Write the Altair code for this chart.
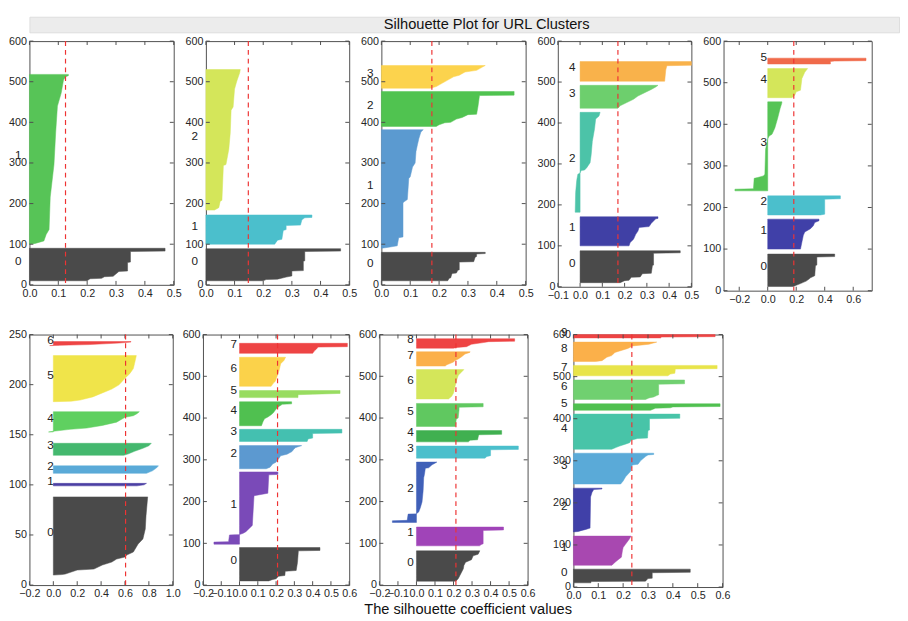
import altair as alt
import pandas as pd

TITLE = "Silhouette Plot for URL Clusters"
XLABEL = "The silhouette coefficient values"
LABEL_X = -0.05  # matplotlib text x for cluster labels

# ---------- data: per panel, per cluster knots (y position, silhouette value) ----------
P1_CLUSTERS = [
    [(10, 0.20), (15, 0.21), (16, 0.25), (20, 0.26), (21, 0.29), (33, 0.31), (34, 0.34), (55, 0.34), (56, 0.35), (82, 0.35), (83, 0.47), (90, 0.47)],
    [(100, 0.0), (102, 0.02), (108, 0.05), (124, 0.058), (136, 0.068), (216, 0.072), (296, 0.085), (376, 0.091), (440, 0.097), (472, 0.11), (504, 0.118), (512, 0.125), (515, 0.135), (518, 0.135)],
]
P1_AVG = 0.125
P1_COLORS = ["#4a4a4a", "#57c457"]

P2_CLUSTERS = [
    [(10, 0.20), (13, 0.21), (14, 0.25), (19, 0.28), (22, 0.30), (34, 0.30), (35, 0.34), (58, 0.34), (59, 0.345), (82, 0.345), (83, 0.47), (89, 0.47)],
    [(100, 0.24), (110, 0.25), (112, 0.265), (134, 0.27), (136, 0.28), (146, 0.28), (147, 0.33), (160, 0.335), (165, 0.345), (166, 0.37), (172, 0.37)],
    [(184, 0.03), (190, 0.045), (206, 0.05), (208, 0.056), (294, 0.061), (296, 0.07), (334, 0.08), (374, 0.085), (430, 0.088), (438, 0.095), (482, 0.10), (502, 0.108), (522, 0.118), (530, 0.12)],
]
P2_AVG = 0.148
P2_COLORS = ["#4a4a4a", "#4bbfcc", "#d4e65a"]

P3_CLUSTERS = [
    [(10, 0.23), (16, 0.235), (17, 0.24), (28, 0.245), (29, 0.26), (36, 0.265), (37, 0.27), (56, 0.27), (57, 0.32), (68, 0.325), (70, 0.33), (76, 0.33), (77, 0.36), (80, 0.36)],
    [(90, 0.0), (92, 0.02), (96, 0.055), (116, 0.06), (118, 0.075), (202, 0.075), (205, 0.08), (210, 0.09), (262, 0.095), (266, 0.10), (290, 0.108), (300, 0.117), (328, 0.12), (345, 0.125), (360, 0.13), (376, 0.137), (382, 0.145)],
    [(390, 0.19), (394, 0.20), (399, 0.22), (400, 0.24), (408, 0.26), (412, 0.28), (419, 0.30), (420, 0.33), (440, 0.335), (466, 0.34), (467, 0.46), (476, 0.46)],
    [(484, 0.17), (488, 0.19), (496, 0.21), (504, 0.23), (512, 0.25), (516, 0.27), (524, 0.29), (528, 0.33), (536, 0.35), (540, 0.36)],
]
P3_AVG = 0.175
P3_COLORS = ["#4a4a4a", "#5b9ad0", "#50c350", "#fcd34d"]

P4_CLUSTERS = [
    [(10, 0.18), (15, 0.20), (16, 0.22), (23, 0.23), (24, 0.27), (32, 0.28), (33, 0.32), (52, 0.325), (53, 0.33), (82, 0.33), (83, 0.45), (88, 0.45)],
    [(100, 0.22), (108, 0.225), (116, 0.24), (128, 0.25), (136, 0.26), (145, 0.265), (147, 0.31), (155, 0.32), (166, 0.34), (167, 0.35), (171, 0.35)],
    [(182, -0.022), (230, -0.02), (260, -0.015), (275, -0.01), (278, 0.0), (284, 0.005), (285, 0.02), (291, 0.03), (303, 0.045), (323, 0.05), (355, 0.055), (386, 0.065), (410, 0.07), (417, 0.085), (426, 0.09)],
    [(436, 0.17), (442, 0.18), (450, 0.21), (458, 0.24), (466, 0.26), (474, 0.29), (482, 0.32), (488, 0.34), (492, 0.35)],
    [(502, 0.38), (530, 0.385), (540, 0.39), (541, 0.50), (550, 0.50)],
]
P4_AVG = 0.17
P4_COLORS = ["#4a4a4a", "#4040a5", "#4cc3a8", "#6dcf6d", "#f9b24b"]

P5_CLUSTERS = [
    [(10, 0.18), (13, 0.20), (17, 0.23), (20, 0.25), (23, 0.27), (28, 0.29), (31, 0.30), (36, 0.33), (60, 0.335), (62, 0.345), (81, 0.345), (82, 0.47), (88, 0.47)],
    [(100, 0.23), (117, 0.24), (133, 0.25), (141, 0.26), (149, 0.30), (156, 0.32), (164, 0.33), (168, 0.36), (172, 0.36)],
    [(182, 0.37), (184, 0.40), (220, 0.40), (221, 0.51), (228, 0.51)],
    [(240, -0.23), (244, -0.23), (245, -0.10), (270, -0.095), (272, -0.07), (276, -0.03), (280, -0.02), (340, -0.015), (365, 0.0), (372, 0.01), (376, 0.03), (391, 0.05), (415, 0.07), (438, 0.087), (450, 0.098), (454, 0.10)],
    [(464, 0.17), (470, 0.19), (478, 0.20), (482, 0.23), (510, 0.24), (514, 0.245), (525, 0.26), (534, 0.28)],
    [(545, 0.44), (551, 0.44), (552, 0.47), (553, 0.69), (559, 0.69)],
]
P5_AVG = 0.183
P5_COLORS = ["#4a4a4a", "#4040a8", "#4bbfcc", "#56c456", "#d4e65a", "#f06a4a"]

P6_CLUSTERS = [
    [(10, 0.0), (10.5, 0.07), (11, 0.10), (13, 0.15), (15, 0.20), (16, 0.34), (20, 0.41), (23, 0.49), (26, 0.53), (28, 0.60), (30, 0.615), (33, 0.67), (41, 0.71), (46, 0.75), (56, 0.77), (69, 0.776), (88, 0.79)],
    [(99, 0.70), (100, 0.76), (101.5, 0.78)],
    [(111.5, 0.78), (114, 0.83), (117, 0.865), (119, 0.88)],
    [(129.5, 0.59), (131, 0.63), (133.5, 0.68), (136.5, 0.75), (139, 0.80), (141.5, 0.82)],
    [(152.8, -0.04), (153.5, 0.0), (155.4, 0.14), (156.7, 0.28), (159.3, 0.41), (162.6, 0.53), (167.4, 0.60), (169, 0.67), (171, 0.70), (173, 0.72)],
    [(183, 0.0), (183.5, 0.15), (184.6, 0.224), (187.8, 0.33), (191.7, 0.41), (195.6, 0.49), (199.8, 0.55), (206.3, 0.60), (211, 0.64), (216, 0.67), (221, 0.68), (229, 0.695)],
    [(239, -0.03), (240, 0.30), (241.5, 0.55), (242.5, 0.65), (243, 0.65)],
]
P6_AVG = 0.605
P6_COLORS = ["#4a4a4a", "#4b3fa3", "#5aaad8", "#44b86e", "#5fd060", "#f0e44a", "#ee4444"]

P7_CLUSTERS = [
    [(10, 0.16), (13, 0.178), (15, 0.20), (21, 0.213), (23, 0.248), (33, 0.25), (35, 0.31), (54, 0.317), (82, 0.322), (83, 0.44), (90, 0.44)],
    [(98, -0.14), (103, -0.14), (104, -0.06), (120, -0.055), (121, 0.0), (124, 0.02), (128, 0.035), (143, 0.07), (212, 0.079), (214, 0.08), (220, 0.155), (264, 0.16), (265, 0.21), (271, 0.21)],
    [(278.6, 0.146), (282.5, 0.167), (290, 0.181), (294, 0.199), (302, 0.213), (309.6, 0.225), (313.5, 0.26), (319.7, 0.287), (325, 0.296), (329, 0.305), (334, 0.34)],
    [(344, 0.37), (350, 0.375), (352, 0.40), (363, 0.40), (364, 0.56), (373, 0.56)],
    [(381.6, 0.12), (391, 0.128), (398.6, 0.137), (402.5, 0.155), (408, 0.173), (412.5, 0.185), (421.8, 0.20), (428, 0.217), (433, 0.234), (434, 0.285), (439, 0.285)],
    [(449, 0.32), (456, 0.32), (457, 0.40), (459, 0.55), (466, 0.55)],
    [(476, 0.173), (483.7, 0.185), (487.6, 0.195), (503, 0.208), (514.7, 0.217), (530, 0.225), (538, 0.243), (545.6, 0.252)],
    [(555, 0.40), (561, 0.41), (565, 0.42), (570, 0.43), (571, 0.59), (579, 0.59)],
]
P7_AVG = 0.208
P7_COLORS = ["#4a4a4a", "#7a4ab8", "#5c99d0", "#44c0b0", "#50c050", "#98dc60", "#fbd24a", "#ee4444"]

P8_CLUSTERS = [
    [(9.4, 0.213), (15.6, 0.226), (23.4, 0.235), (31.2, 0.244), (39, 0.253), (46.8, 0.256), (54.6, 0.265), (60.8, 0.297), (70, 0.306), (74, 0.333), (82, 0.342)],
    [(94, 0.34), (97, 0.35), (99, 0.36), (131, 0.36), (132, 0.47), (139, 0.47)],
    [(150, -0.13), (154, -0.13), (155, -0.05), (170, -0.045), (171, 0.0), (175, 0.012), (185.5, 0.021), (199, 0.03), (226, 0.036), (257, 0.039), (265, 0.043), (280, 0.048), (281, 0.066), (288, 0.084), (292, 0.10), (294.6, 0.11)],
    [(304, 0.37), (308, 0.38), (310, 0.40), (324, 0.40), (325, 0.55), (333, 0.55)],
    [(343, 0.28), (347, 0.29), (348, 0.33), (358, 0.335), (360, 0.34), (361, 0.46), (370, 0.46)],
    [(380, 0.21), (398, 0.215), (400, 0.225), (420, 0.23), (426, 0.23), (427, 0.36), (435, 0.36)],
    [(445.8, 0.173), (452, 0.19), (460, 0.20), (475.5, 0.208), (491, 0.217), (502.7, 0.226), (510.5, 0.244), (516, 0.256)],
    [(524.6, 0.155), (527.7, 0.164), (534, 0.20), (537.8, 0.208), (541.7, 0.226), (547, 0.244), (553.4, 0.262), (557.3, 0.288), (558.8, 0.29)],
    [(567.4, 0.20), (569, 0.217), (571, 0.27), (576.8, 0.297), (580.7, 0.36), (583, 0.39), (584, 0.53), (590, 0.53)],
]
P8_AVG = 0.213
P8_COLORS = ["#4a4a4a", "#a044b8", "#4060b8", "#4bbfcc", "#40b050", "#60c860", "#d4e65a", "#fbb04a", "#ee4444"]

P9_CLUSTERS = [
    [(10, 0.07), (13, 0.072), (14, 0.29), (20, 0.30), (21, 0.317), (34, 0.317), (35, 0.47), (42.5, 0.47)],
    [(51.7, 0.155), (55, 0.16), (60, 0.17), (65, 0.18), (71, 0.193), (86, 0.197), (94, 0.20), (102, 0.21), (110, 0.22), (114, 0.225), (121, 0.232)],
    [(131, 0.0), (132, 0.02), (134, 0.03), (137, 0.05), (140, 0.067), (214, 0.069), (225, 0.075), (232, 0.082), (233, 0.115), (235, 0.115)],
    [(244.8, 0.19), (252, 0.20), (262, 0.21), (275, 0.23), (290, 0.237), (292, 0.26), (300, 0.27), (310, 0.29), (314, 0.30), (315, 0.323), (318, 0.323)],
    [(327.4, 0.154), (332, 0.173), (335, 0.186), (339, 0.206), (343, 0.226), (349, 0.232), (353, 0.258), (354, 0.298), (372, 0.30), (373, 0.306), (400, 0.306), (401, 0.428), (411, 0.428)],
    [(420, 0.31), (425, 0.33), (426, 0.39), (428, 0.40), (429, 0.59), (435.5, 0.59)],
    [(445.6, 0.29), (449.4, 0.304), (451.7, 0.323), (455, 0.335), (457, 0.343), (482, 0.343), (483, 0.447), (492, 0.447)],
    [(502, 0.38), (506, 0.39), (508, 0.408), (518, 0.41), (519, 0.578), (526.6, 0.578)],
    [(536, 0.089), (538, 0.115), (546, 0.134), (550, 0.154), (557.5, 0.167), (561, 0.186), (567, 0.219), (573, 0.239), (577, 0.304), (582, 0.335)],
    [(592, 0.35), (594, 0.355), (595, 0.57), (600, 0.57)],
]
P9_AVG = 0.235
P9_COLORS = ["#4a4a4a", "#a848b0", "#4040a8", "#5aaad8", "#48c4a8", "#50c050", "#70d070", "#e8e44a", "#fbb04a", "#ee4444"]

# axis settings (domains / tick values)
TICKS_05 = [0.0, 0.1, 0.2, 0.3, 0.4, 0.5]
TICKS_Y600 = [0, 100, 200, 300, 400, 500, 600]

FONT = "Liberation Sans"
FRAME = "#4d4d4d"
TICK_LEN = 4


def panel(clusters, colors, avg, xdom, xticks, ydom, yticks, w, h):
    rows, labs = [], []
    for ci, pts in enumerate(clusters):
        for y, x in pts:
            rows.append({"c": ci, "y": y, "x": x, "col": colors[ci]})
        labs.append({"lab": str(ci), "ly": (pts[0][0] + pts[-1][0]) / 2.0, "lx": LABEL_X})
    df = pd.DataFrame(rows)
    dl = pd.DataFrame(labs)
    da = pd.DataFrame({"avg": [avg]})
    dxt = pd.DataFrame({"v": xticks})
    dyt = pd.DataFrame({"v": yticks})

    xs = alt.Scale(domain=xdom, nice=False, zero=False)
    ys = alt.Scale(domain=ydom, nice=False, zero=False)
    xa = alt.Axis(values=xticks, format=".1f", labelFlush=False, labelOverlap=False, title=None)
    ya = alt.Axis(values=yticks, format="d", labelOverlap=False, title=None)

    area = alt.Chart(df).mark_area(
        orient="horizontal", fillOpacity=1.0, strokeOpacity=1.0, strokeWidth=0.5
    ).encode(
        x=alt.X("x:Q", scale=xs, axis=xa, stack=None),
        y=alt.Y("y:Q", scale=ys, axis=ya),
        fill=alt.Fill("col:N", scale=None),
        stroke=alt.Stroke("col:N", scale=None),
        detail="c:N",
    )
    xt_top = alt.Chart(dxt).mark_rule(color=FRAME, strokeWidth=1).encode(
        x=alt.X("v:Q", scale=xs, axis=xa), y=alt.value(0), y2=alt.value(TICK_LEN))
    xt_bot = alt.Chart(dxt).mark_rule(color=FRAME, strokeWidth=1).encode(
        x=alt.X("v:Q", scale=xs, axis=xa), y=alt.value(h), y2=alt.value(h - TICK_LEN))
    yt_l = alt.Chart(dyt).mark_rule(color=FRAME, strokeWidth=1).encode(
        y=alt.Y("v:Q", scale=ys, axis=ya), x=alt.value(0), x2=alt.value(TICK_LEN))
    yt_r = alt.Chart(dyt).mark_rule(color=FRAME, strokeWidth=1).encode(
        y=alt.Y("v:Q", scale=ys, axis=ya), x=alt.value(w), x2=alt.value(w - TICK_LEN))
    rule = alt.Chart(da).mark_rule(
        color="#ee3333", strokeDash=[5, 4], strokeWidth=1.2
    ).encode(x=alt.X("avg:Q", scale=xs, axis=xa))
    text = alt.Chart(dl).mark_text(
        align="left", baseline="alphabetic", fontSize=12, font=FONT, color="#222222"
    ).encode(
        x=alt.X("lx:Q", scale=xs, axis=xa),
        y=alt.Y("ly:Q", scale=ys, axis=ya),
        text="lab:N",
    )
    return alt.layer(area, xt_top, xt_bot, yt_l, yt_r, rule, text).properties(width=w, height=h)


p1 = panel(P1_CLUSTERS, P1_COLORS, P1_AVG, [0, 0.5], TICKS_05, [0, 600], TICKS_Y600, 148, 250)
p2 = panel(P2_CLUSTERS, P2_COLORS, P2_AVG, [0, 0.5], TICKS_05, [0, 600], TICKS_Y600, 147, 250)
p3 = panel(P3_CLUSTERS, P3_COLORS, P3_AVG, [0, 0.5], TICKS_05, [0, 600], TICKS_Y600, 148, 250)
p4 = panel(P4_CLUSTERS, P4_COLORS, P4_AVG, [-0.1, 0.5], [-0.1, 0.0, 0.1, 0.2, 0.3, 0.4, 0.5], [0, 600], TICKS_Y600, 137, 252)
p5 = panel(P5_CLUSTERS, P5_COLORS, P5_AVG, [-0.31, 0.73], [-0.2, 0.0, 0.2, 0.4, 0.6], [0, 600], TICKS_Y600, 152, 256)
p6 = panel(P6_CLUSTERS, P6_COLORS, P6_AVG, [-0.2, 1.0], [-0.2, 0.0, 0.2, 0.4, 0.6, 0.8, 1.0], [0, 250], [0, 50, 100, 150, 200, 250], 147, 257)
p7 = panel(P7_CLUSTERS, P7_COLORS, P7_AVG, [-0.2, 0.6], [-0.2, -0.1, 0.0, 0.1, 0.2, 0.3, 0.4, 0.5, 0.6], [0, 600], TICKS_Y600, 150, 257)
p8 = panel(P8_CLUSTERS, P8_COLORS, P8_AVG, [-0.2, 0.6], [-0.2, -0.1, 0.0, 0.1, 0.2, 0.3, 0.4, 0.5, 0.6], [0, 600], TICKS_Y600, 152, 257)
p9 = panel(P9_CLUSTERS, P9_COLORS, P9_AVG, [0.0, 0.6], [0.0, 0.1, 0.2, 0.3, 0.4, 0.5, 0.6], [0, 600], TICKS_Y600, 153, 259)

row1 = alt.hconcat(p1, p2, p3, p4, p5, spacing=2)
row2 = alt.hconcat(alt.hconcat(p6, p7, p8, spacing=0), p9, spacing=16)

band = alt.Chart(pd.DataFrame({"t": [TITLE]})).mark_text(
    fontSize=15, font=FONT, color="#111111", dx=23
).encode(text="t:N").properties(
    width=892, height=16, view=alt.ViewBackground(fill="#ececec", stroke="#dddddd")
)

xlab = alt.Chart(pd.DataFrame({"t": [XLABEL]})).mark_text(
    fontSize=15, font=FONT, color="#111111", dx=4
).encode(text="t:N").properties(
    width=892, height=14, view=alt.ViewBackground(fill="white", stroke="transparent")
)

top = alt.concat(band, row1, columns=1, spacing=1, align="none")
mid = alt.concat(top, row2, columns=1, spacing=21, align="none")
chart = alt.concat(mid, xlab, columns=1, spacing=0, align="none").properties(
    padding=0, background="white"
).configure_view(
    stroke=FRAME, strokeWidth=1
).configure_axis(
    labelFont=FONT, labelFontSize=11, labelColor="#262626",
    ticks=False, domain=False, grid=False, labelPadding=3
)

chart.save("out.html", embed_options={"renderer": "svg", "actions": False})
